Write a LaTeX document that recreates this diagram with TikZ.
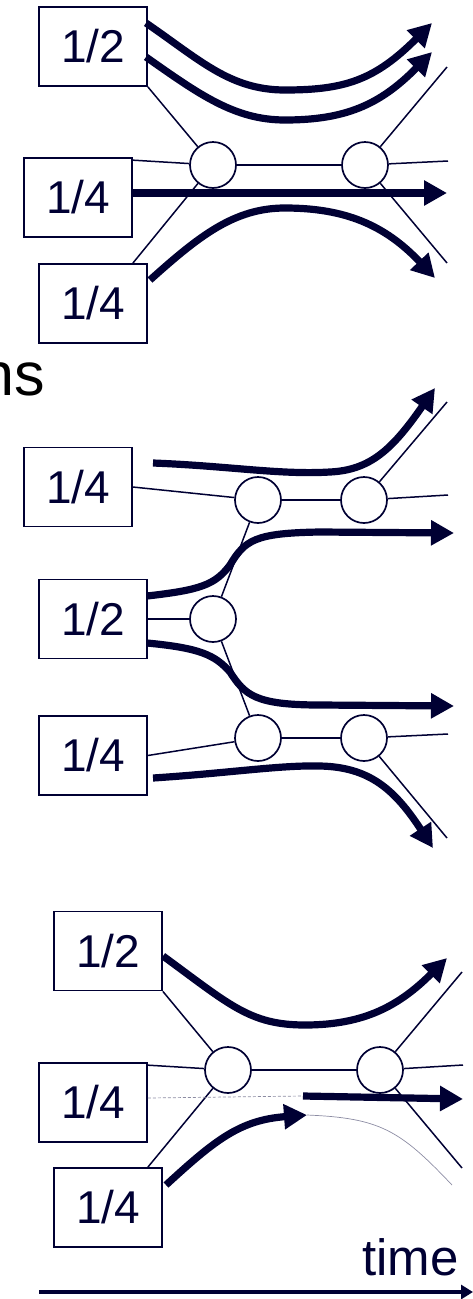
\documentclass[tikz,border=0pt]{standalone}
\usepackage{fontspec}
\setmainfont{Liberation Sans}
\usetikzlibrary{arrows.meta,calc}
\definecolor{ink}{RGB}{0,0,51}
\begin{document}
\begin{tikzpicture}[x=1pt,y=-1pt,
  frac/.style={draw=ink, line width=1.7pt, minimum width=108pt, minimum height=79pt, inner sep=0pt, text=ink, font=\fontsize{46}{50}\selectfont},
  ball/.style={circle, draw=ink, fill=white, line width=1.7pt, minimum size=46pt, inner sep=0pt},
  link/.style={draw=ink, line width=1.5pt},
  flow/.style={draw=ink, line width=7.2pt, -{Triangle[length=23pt,width=24pt]}},
  ghost/.style={draw=ink!45, line width=0.7pt},
  timeline/.style={draw=ink, line width=3.2pt, -{Triangle[length=12pt,width=14pt]}},
]
\useasboundingbox (0,0) rectangle (473,1299);

% ---------- section 1 ----------
\node[frac] (A1) at (93,46.5) {1/2};
\node[frac] (B1) at (78,197.5) {1/4};
\node[frac] (C1) at (93,303.5) {1/4};
\node[ball] (L1) at (213,165) {};
\node[ball] (R1) at (365,165) {};
\coordinate (r1a) at (447,67);
\coordinate (r1b) at (448,161);
\coordinate (r1c) at (447,263);
\draw[link] (A1.south east) -- (L1);
\draw[link] ($(B1.north east)+(0,3)$) -- (L1);
\draw[link] ($(C1.north east)+(-15,0)$) -- (L1);
\draw[link] (L1) -- (R1);
\draw[link] (R1) -- (r1a);
\draw[link] (R1) -- (r1b);
\draw[link] (R1) -- (r1c);

\coordinate (f1s) at (146,23);  \coordinate (f1e) at (432,23);
\coordinate (f2s) at (146,57);  \coordinate (f2e) at (432,52);
\coordinate (f3e) at (447,193);
\coordinate (f4s) at (150,280); \coordinate (f4e) at (435,278);
\draw[flow] (f1s) .. controls (200,60) and (230,90) .. (285,90) .. controls (345,90) and (375,80) .. (f1e);
\draw[flow] (f2s) .. controls (200,95) and (235,120) .. (285,120) .. controls (345,120) and (380,105) .. (f2e);
\draw[flow] ($(B1.east)+(0,-4.5)$) -- (f3e);
\draw[flow] (f4s) .. controls (200,235) and (235,208) .. (285,208) .. controls (345,208) and (385,225) .. (f4e);

% ---------- partial heading ----------
\node[anchor=base east, inner sep=0pt, text=black, font=\fontsize{61}{64}\selectfont] (hd) at (45,395) {ns};

% ---------- section 2 ----------
\node[frac] (A2) at (78,487) {1/4};
\node[frac] (B2) at (93,619) {1/2};
\node[frac] (C2) at (93,755.5) {1/4};
\node[ball] (P2) at (258,500) {};
\node[ball] (Q2) at (364,500) {};
\node[ball] (M2) at (213,619) {};
\node[ball] (S2) at (258,738) {};
\node[ball] (T2) at (364,738) {};
\coordinate (q2a) at (447,402);
\coordinate (q2b) at (448,495);
\coordinate (t2a) at (448,734);
\coordinate (t2b) at (447,838);
\draw[link] (A2.east) -- (P2);
\draw[link] (P2) -- (Q2);
\draw[link] (Q2) -- (q2a);
\draw[link] (Q2) -- (q2b);
\draw[link] (P2) -- (M2);
\draw[link] (B2.east) -- (M2);
\draw[link] (M2) -- (S2);
\draw[link] (C2.east) -- (S2);
\draw[link] (S2) -- (T2);
\draw[link] (T2) -- (t2a);
\draw[link] (T2) -- (t2b);

\coordinate (g1s) at (153,463); \coordinate (g1e) at (435,388);
\coordinate (g2s) at (147,596); \coordinate (g2e) at (454,533);
\coordinate (g3s) at (147,643); \coordinate (g3e) at (454,706);
\coordinate (g4s) at (153,778); \coordinate (g4e) at (433,848);
\draw[flow] (g1s) .. controls (230,466) and (280,475) .. (330,472) .. controls (370,470) and (392,450) .. (g1e);
\draw[flow] (g2s) .. controls (200,590) and (215,585) .. (230,565) .. controls (245,540) and (255,533) .. (320,532) -- (g2e);
\draw[flow] (g3s) .. controls (200,648) and (215,655) .. (230,672) .. controls (245,695) and (255,705) .. (320,705) -- (g3e);
\draw[flow] (g4s) .. controls (230,773) and (280,765) .. (320,766) .. controls (370,767) and (395,790) .. (g4e);

% ---------- section 3 ----------
\node[frac] (A3) at (108,951) {1/2};
\node[frac] (B3) at (93,1102.5) {1/4};
\node[frac] (C3) at (108,1207.5) {1/4};
\node[ball] (L3) at (228,1070) {};
\node[ball] (R3) at (380,1070) {};
\coordinate (r3a) at (462,972);
\coordinate (r3b) at (463,1065);
\coordinate (r3c) at (462,1168);
\draw[link] (A3.south east) -- (L3);
\draw[link] ($(B3.north east)+(0,3)$) -- (L3);
\draw[link] ($(C3.north east)+(-15,0)$) -- (L3);
\draw[link] (L3) -- (R3);
\draw[link] (R3) -- (r3a);
\draw[link] (R3) -- (r3b);
\draw[link] (R3) -- (r3c);

\coordinate (h1s) at (163,956);  \coordinate (h1e) at (447,958);
\coordinate (h2s) at (166,1185); \coordinate (h2e) at (307,1115);
\coordinate (h3s) at (303,1096); \coordinate (h3e) at (463,1099);
\coordinate (h4e) at (452,1185);
\draw[ghost, dash pattern=on 3pt off 2pt] ($(B3.east)+(0,-4.5)$) -- (h3s);
\draw[ghost] (h2e) .. controls (380,1118) and (400,1130) .. (h4e);
\draw[flow] (h1s) .. controls (230,1005) and (250,1025) .. (305,1025) .. controls (365,1025) and (400,1005) .. (h1e);
\draw[flow] (h2s) .. controls (215,1140) and (240,1120) .. (h2e);
\draw[flow] (h3s) -- (h3e);

% ---------- time axis ----------
\node[anchor=base east, inner sep=0pt, text=ink, font=\fontsize{51}{54}\selectfont] (tm) at (459,1275) {time};
\coordinate (ts) at (39,1292);
\coordinate (te) at (473,1292);
\draw[timeline] (ts) -- (te);
\end{tikzpicture}
\end{document}
